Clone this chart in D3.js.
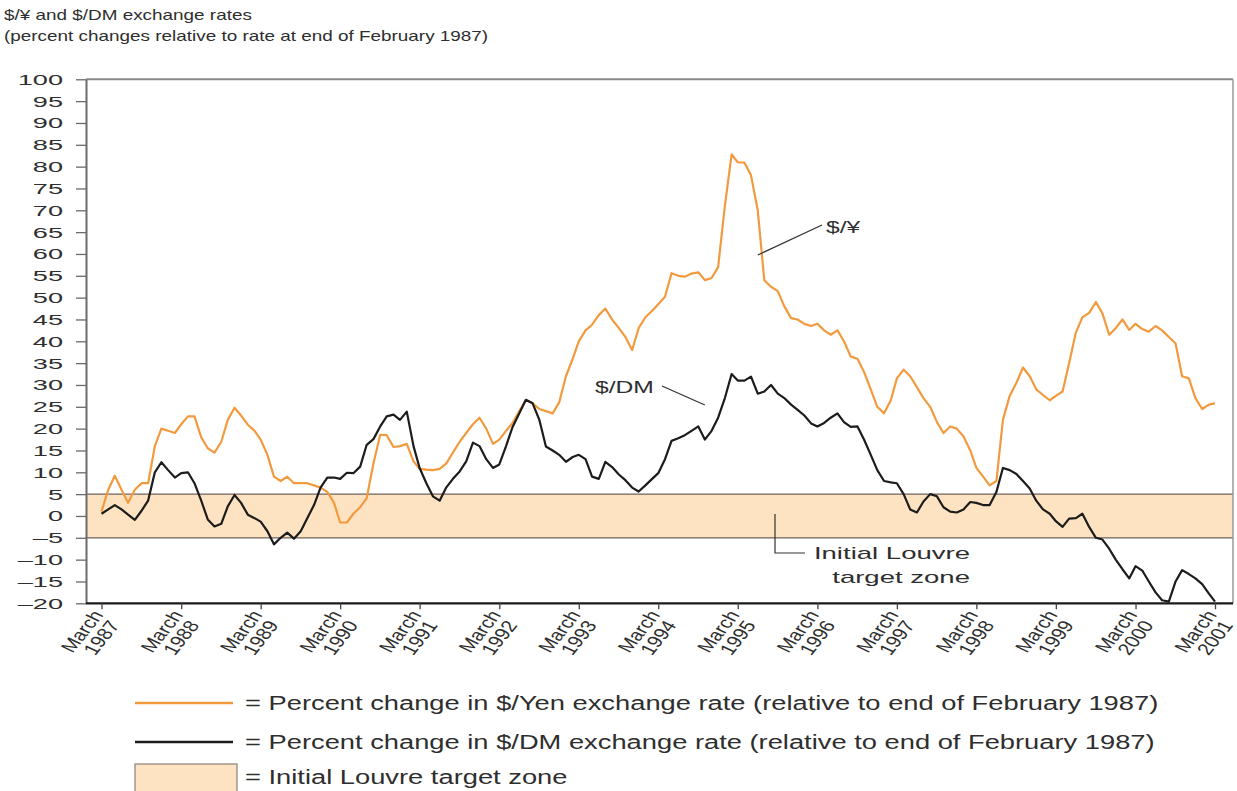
<!DOCTYPE html>
<html>
<head>
<meta charset="utf-8">
<script src="https://cdn.jsdelivr.net/npm/d3@7"></script>
<style>
  html, body { margin: 0; padding: 0; background: #fff; }
  svg { display: block; font-family: "Liberation Sans", Arial, Helvetica, sans-serif; }
</style>
</head>
<body>
<svg id="chart" width="1237" height="791"></svg>
<script>
// ---------------- data ----------------
const titleLines = ["$/¥ and $/DM exchange rates", "(percent changes relative to rate at end of February 1987)"];
const startMonth = [1987, 2]; // March 1987 (month index 2)
// monthly percent change, March 1987 .. March 2001
const yenValues = [
  1, 6, 9.2, 6, 3, 6, 7.5, 7.5, 16, 20, 19.5, 19, 21, 22.8, 22.8, 18, 15.5, 14.5, 17, 22,
  24.8, 23, 20.9, 19.5, 17.5, 14, 9, 8, 9, 7.5, 7.5, 7.5, 7, 6.5, 5.5, 3, -1.5, -1.5, 0.5, 2,
  4.1, 12, 18.6, 18.5, 15.8, 16, 16.5, 12.5, 10.8, 10.6, 10.5, 10.8, 12, 14.5, 17, 19, 21, 22.5, 20, 16.5,
  17.5, 19.5, 21.3, 24, 26.5, 25.8, 24.5, 24, 23.5, 26, 32, 36, 40, 42.5, 43.8, 46, 47.5, 45, 43, 41,
  38, 43, 45.5, 47, 48.5, 50.2, 55.6, 55, 54.8, 55.5, 55.8, 54, 54.5, 57, 71, 82.8, 81, 80.9, 78, 70,
  54, 52.5, 51.5, 48, 45.3, 45, 44, 43.5, 44, 42.5, 41.5, 42.5, 40, 36.5, 36, 33, 29, 25, 23.5, 26.5,
  31.5, 33.5, 32, 29.5, 27, 25, 21.5, 19, 20.5, 20, 18.2, 15, 11, 9, 7, 8, 22, 27.5, 30.5, 34,
  32, 29, 27.7, 26.5, 27.5, 28.5, 35, 42, 45.5, 46.5, 49, 46.4, 41.5, 43, 45, 42.6, 44, 42.8, 42.2, 43.5,
  42.5, 41, 39.5, 32, 31.5, 27, 24.5, 25.5, 25.8
];
const dmValues = [
  0.5, 1.5, 2.5, 1.5, 0.3, -0.9, 1.2, 3.5, 10, 12.3, 10.5, 8.8, 9.8, 10, 7.5, 3.5, -0.8, -2.4, -1.8, 2.2,
  4.8, 3, 0.3, -0.5, -1.3, -3.5, -6.5, -5, -3.8, -5.2, -3.5, -0.5, 2.5, 6.5, 8.8, 8.8, 8.5, 9.9, 9.8, 11.3,
  16.3, 17.6, 20.5, 22.8, 23.2, 22, 23.9, 16, 11, 7.5, 4.5, 3.5, 6.5, 8.5, 10.2, 12.5, 16.8, 16, 13, 11,
  11.8, 16, 20.4, 23.5, 26.6, 25.8, 22, 15.9, 15, 14, 12.4, 13.5, 14, 13, 9, 8.5, 12.4, 11.2, 9.5, 8.2,
  6.5, 5.6, 7, 8.5, 9.8, 13, 17.2, 17.8, 18.5, 19.5, 20.5, 17.5, 19.5, 22.5, 27, 32.5, 31, 31, 31.9, 28,
  28.5, 30, 28, 27, 25.5, 24.3, 23, 21.2, 20.5, 21.3, 22.5, 23.5, 21.5, 20.4, 20.5, 17.5, 14, 10.5, 8, 7.7,
  7.5, 5, 1.5, 0.8, 3.3, 5, 4.5, 2, 1, 0.8, 1.5, 3.2, 3, 2.5, 2.5, 5.5, 11, 10.5, 9.6, 8,
  6.3, 3.5, 1.5, 0.5, -1.2, -2.5, -0.6, -0.5, 0.5, -2.5, -5, -5.4, -7.5, -10, -12.2, -14.3, -11.5, -12.5, -15, -17.5,
  -19.3, -19.6, -15, -12.4, -13.3, -14.3, -15.6, -17.8, -19.6
];
const tickYears = [1987, 1988, 1989, 1990, 1991, 1992, 1993, 1994, 1995, 1996, 1997, 1998, 1999, 2000, 2001];
const tickMonthLabel = "March";
const yTicks = [-20, -15, -10, -5, 0, 5, 10, 15, 20, 25, 30, 35, 40, 45, 50, 55, 60, 65, 70, 75, 80, 85, 90, 95, 100];
const zoneBounds = [-5, 5];
const seriesLabels = ["$/¥", "$/DM"];
const zoneLabel = ["Initial Louvre", "target zone"];
const legendTexts = [
  "= Percent change in $/Yen exchange rate (relative to end of February 1987)",
  "= Percent change in $/DM exchange rate (relative to end of February 1987)",
  "= Initial Louvre target zone"
];

// ---------------- layout ----------------
const COL_YEN = "#f39a3e", COL_DM = "#1c1c1c", COL_ZONE = "#fde3c1", COL_TXT = "#2e2e2e";
const box = { left: 86, right: 1233, top: 79.3, bottom: 603.3 };
const svg = d3.select("#chart");

const dates = yenValues.map((_, i) => new Date(Date.UTC(startMonth[0], startMonth[1] + i, 1)));
const x = d3.scaleUtc()
  .domain([new Date(Date.UTC(1987, 2, 1)), new Date(Date.UTC(2001, 2, 1))])
  .range([101.5, 1215]);
const y = d3.scaleLinear().domain([-20, 100]).range([box.bottom, box.top]);

// helper for horizontally-stretched text
function stext(parent, str, tx, ty, size, sx, anchor) {
  return parent.append("text")
    .attr("transform", `translate(${tx},${ty}) scale(${sx},1)`)
    .attr("font-size", size).attr("fill", COL_TXT)
    .attr("text-anchor", anchor || "start")
    .text(str);
}

// title
stext(svg, titleLines[0], 4, 20, 14, 1.35);
stext(svg, titleLines[1], 4, 41, 14, 1.35);

// clip
svg.append("clipPath").attr("id", "clip").append("rect")
  .attr("x", box.left).attr("y", box.top).attr("width", box.right - box.left).attr("height", box.bottom - box.top);

// zone band
svg.append("rect")
  .attr("x", box.left).attr("width", box.right - box.left)
  .attr("y", y(zoneBounds[1])).attr("height", y(zoneBounds[0]) - y(zoneBounds[1]))
  .attr("fill", COL_ZONE);
zoneBounds.forEach(v => {
  svg.append("line").attr("x1", box.left).attr("x2", box.right)
    .attr("y1", y(v)).attr("y2", y(v))
    .attr("stroke", "#6e625a").attr("stroke-width", 1.3);
});

// lines
const line = d3.line().x((d, i) => x(dates[i])).y(d => y(d)).curve(d3.curveLinear);
const gLines = svg.append("g").attr("clip-path", "url(#clip)");
gLines.append("path").datum(yenValues).attr("d", line)
  .attr("fill", "none").attr("stroke", COL_YEN).attr("stroke-width", 2.2).attr("stroke-linejoin", "round");
gLines.append("path").datum(dmValues).attr("d", line)
  .attr("fill", "none").attr("stroke", COL_DM).attr("stroke-width", 2.2).attr("stroke-linejoin", "round");

// frame
svg.append("line").attr("x1", box.left).attr("x2", box.right).attr("y1", box.top).attr("y2", box.top)
  .attr("stroke", "#8a8a8a").attr("stroke-width", 2);
svg.append("line").attr("x1", box.right).attr("x2", box.right).attr("y1", box.top).attr("y2", box.bottom)
  .attr("stroke", "#9a9a9a").attr("stroke-width", 1.5);

// y axis (ticks from d3 axis, labels drawn as stretched text)
const yAxis = svg.append("g").attr("transform", `translate(${box.left},0)`)
  .call(d3.axisLeft(y).tickValues(yTicks).tickSize(10).tickSizeOuter(0).tickFormat(""));
yAxis.select(".domain").attr("stroke", "#6a6a6a").attr("stroke-width", 2);
yAxis.selectAll(".tick line").attr("stroke", "#6a6a6a").attr("stroke-width", 1.3);
const yLab = svg.append("g");
yTicks.forEach(v => {
  stext(yLab, v < 0 ? "\u2013" + Math.abs(v) : String(v), 63, y(v) + 5.5, 15.5, 1.75, "end");
});

// x axis
const tickDates = tickYears.map(yr => new Date(Date.UTC(yr, 2, 1)));
const xAxis = svg.append("g").attr("transform", `translate(0,${box.bottom})`)
  .call(d3.axisBottom(x).tickValues(tickDates).tickSize(6).tickSizeOuter(0).tickFormat(""));
xAxis.select(".domain").attr("d", `M${box.left},0H${box.right}`).attr("stroke", "#1a1a1a").attr("stroke-width", 2.2);
xAxis.selectAll(".tick line").attr("stroke", "#444").attr("stroke-width", 1.3);
const xl = svg.append("g");
tickDates.forEach((d, i) => {
  const g = xl.append("g").attr("transform", `translate(${x(d) - 3},${box.bottom + 9}) scale(1.3,1) rotate(-58)`);
  const t = g.append("text").attr("text-anchor", "end").attr("font-size", 16.5).attr("fill", COL_TXT);
  t.append("tspan").attr("x", 0).attr("y", 5).text(tickMonthLabel);
  t.append("tspan").attr("x", -2).attr("y", 21).text(String(tickYears[i]));
});

// annotations
const ann = svg.append("g");
ann.append("line").attr("x1", 822).attr("y1", 225).attr("x2", x(new Date(Date.UTC(1995, 5, 1)))).attr("y2", 255)
  .attr("stroke", "#333").attr("stroke-width", 1.2);
stext(ann, seriesLabels[0], 826, 233, 17, 1.45);
ann.append("line").attr("x1", 662).attr("y1", 386).attr("x2", x(new Date(Date.UTC(1994, 9, 1)))).attr("y2", 405)
  .attr("stroke", "#333").attr("stroke-width", 1.2);
stext(ann, seriesLabels[1], 595, 393, 17, 1.45);
ann.append("path").attr("d", "M775,514V553H805").attr("fill", "none").attr("stroke", "#333").attr("stroke-width", 1.2);
stext(ann, zoneLabel[0], 970, 559, 17, 1.62, "end");
stext(ann, zoneLabel[1], 970, 583, 17, 1.62, "end");

// legend
const lg = svg.append("g");
lg.append("line").attr("x1", 135).attr("x2", 233).attr("y1", 703).attr("y2", 703).attr("stroke", COL_YEN).attr("stroke-width", 2.5);
lg.append("line").attr("x1", 135).attr("x2", 233).attr("y1", 742).attr("y2", 742).attr("stroke", COL_DM).attr("stroke-width", 2.5);
lg.append("rect").attr("x", 135).attr("y", 764).attr("width", 102).attr("height", 40)
  .attr("fill", COL_ZONE).attr("stroke", "#8a7f78").attr("stroke-width", 1.2);
stext(lg, legendTexts[0], 245, 710, 19.5, 1.4);
stext(lg, legendTexts[1], 245, 749, 19.5, 1.4);
stext(lg, legendTexts[2], 245, 784, 19.5, 1.4);
</script>
</body>
</html>
